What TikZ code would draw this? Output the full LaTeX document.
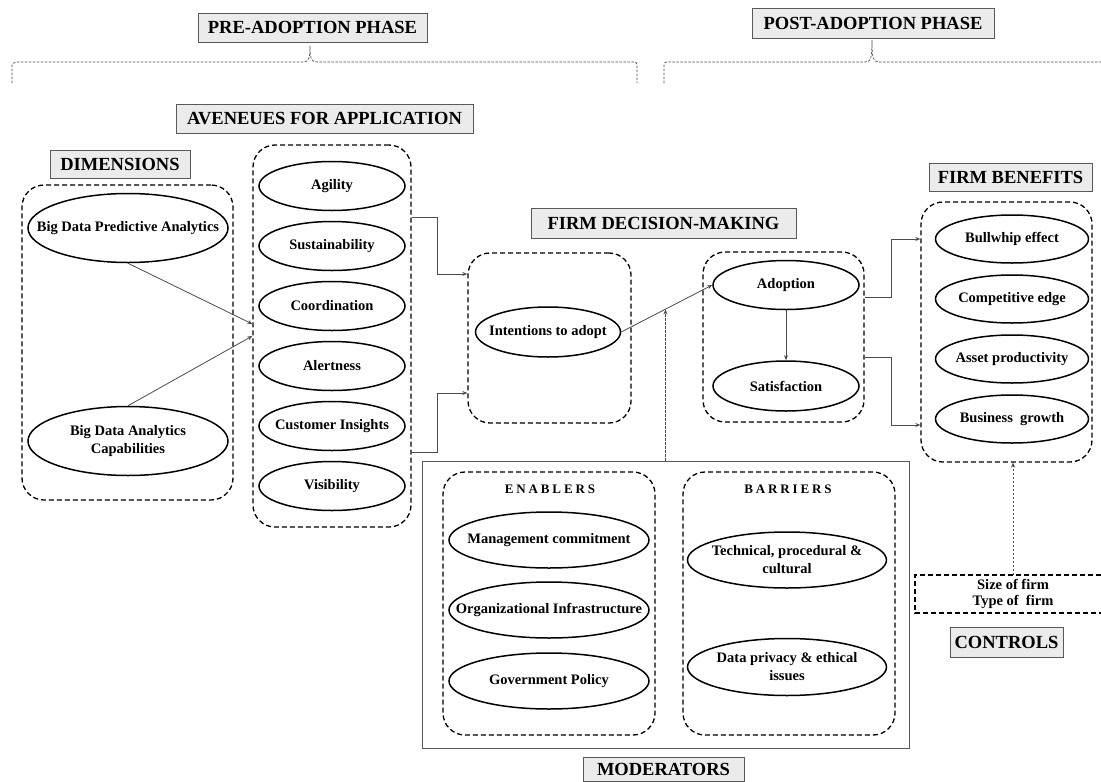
\documentclass[tikz,border=0pt]{standalone}
\usepackage{fontspec}
\setmainfont{Liberation Serif}
\newfontfamily\spacedfont[LetterSpace=22]{Liberation Serif}
\usetikzlibrary{shapes.geometric,arrows.meta,calc}
\begin{document}
\begin{tikzpicture}[x=1pt,y=-1pt,
  hd/.style={draw=black!65, fill=black!8, line width=0.9pt, inner sep=0pt, font=\fontsize{18.5}{20}\selectfont\bfseries},
  dbox/.style={draw, dash pattern=on 5pt off 3pt, line width=1.3pt, rounded corners=22pt, inner sep=0pt},
  el/.style={draw, ellipse, line width=1.5pt, inner sep=0pt},
  lab/.style={font=\fontsize{14.5}{18}\selectfont\bfseries, align=center},
  conn/.style={draw=black!70, line width=0.8pt, -{Stealth[length=5pt,width=4pt]}},
  dotc/.style={draw=black!70, line width=0.7pt, dash pattern=on 2.5pt off 1.5pt},
  sp/.style={font=\fontsize{13}{15}\spacedfont\bfseries},
]
\fill[white] (0,0) rectangle (1101,782);
\useasboundingbox (0,0) rectangle (1101,782);

% phase headings
\node[hd, minimum width=229, minimum height=29] (pre) at (312.5,27.5) {PRE-ADOPTION PHASE};
\node[hd, minimum width=242, minimum height=30] (post) at (873,23) {POST-ADOPTION PHASE};
\draw[dotc] (12,83) -- (12,68) .. controls (12,63) .. (18,62) -- (303,62)
  .. controls (309,62) and (310,58) .. (310,46) .. controls (310,58) and (311,62) .. (317,62)
  -- (631,62) .. controls (637,62) .. (637,68) -- (637,83);
\draw[dotc] (664,83) -- (664,68) .. controls (664,62) .. (670,62) -- (865,62)
  .. controls (871,62) and (872,58) .. (872,40) .. controls (872,58) and (873,62) .. (879,62)
  -- (1101,62);

% section headings
\node[hd, minimum width=297, minimum height=29] (avh) at (324.5,118.5) {AVENEUES FOR APPLICATION};
\node[hd, minimum width=140, minimum height=28] (dimh) at (120,164) {DIMENSIONS};
\node[hd, minimum width=265, minimum height=30] (fdh) at (663.5,223) {FIRM DECISION-MAKING};
\node[hd, minimum width=163, minimum height=28] (fbh) at (1010.5,177) {FIRM BENEFITS};
\node[hd, minimum width=113, minimum height=30] (ctrlh) at (1006.5,642) {CONTROLS};
\node[hd, minimum width=161, minimum height=24] (modh) at (663.5,769) {MODERATORS};

% dimensions
\node[dbox, minimum width=211, minimum height=315] (dim) at (127.5,342.5) {};
\node[el, minimum width=200, minimum height=69, label={[lab]center:Big Data Predictive Analytics}] (bdpa) at (128,228) {};
\node[el, minimum width=200, minimum height=69, label={[lab]center:{Big Data Analytics\\Capabilities}}] (bdac) at (128,441) {};

% avenues
\node[dbox, minimum width=158, minimum height=382] (av) at (332,336) {};
\node[el, minimum width=146, minimum height=49, label={[lab]center:Agility}] (agi) at (332,186) {};
\node[el, minimum width=146, minimum height=49, label={[lab]center:Sustainability}] (sus) at (332,246) {};
\node[el, minimum width=146, minimum height=49, label={[lab]center:Coordination}] (coo) at (332,306) {};
\node[el, minimum width=146, minimum height=49, label={[lab]center:Alertness}] (ale) at (332,366) {};
\node[el, minimum width=146, minimum height=49, label={[lab]center:Customer Insights}] (cus) at (332,426) {};
\node[el, minimum width=146, minimum height=49, label={[lab]center:Visibility}] (vis) at (332,486) {};

% decision making
\node[dbox, minimum width=163, minimum height=170] (ib) at (549.5,338) {};
\node[el, minimum width=145, minimum height=50, label={[lab]center:Intentions to adopt}] (int) at (548,332) {};
\node[dbox, minimum width=161, minimum height=170] (adb) at (783.5,337) {};
\node[el, minimum width=146, minimum height=49, label={[lab]center:Adoption}] (ado) at (786,285) {};
\node[el, minimum width=146, minimum height=50, label={[lab]center:Satisfaction}] (sat) at (786,386) {};

% benefits
\node[dbox, minimum width=171, minimum height=260] (bb) at (1006.5,332) {};
\node[el, minimum width=153, minimum height=48, label={[lab]center:Bullwhip effect}] (bull) at (1012,239) {};
\node[el, minimum width=153, minimum height=48, label={[lab]center:Competitive edge}] (comp) at (1012,299) {};
\node[el, minimum width=153, minimum height=48, label={[lab]center:Asset productivity}] (asset) at (1012,359) {};
\node[el, minimum width=153, minimum height=48, label={[lab]center:Business~ growth}] (bus) at (1012,419) {};

% controls
\draw[line width=1.3pt, dash pattern=on 5pt off 3pt] (1101,575) -- (915,575) -- (915,613) -- (1101,613);
\node[font=\fontsize{14.5}{16}\selectfont\bfseries, align=center, inner sep=0pt] (ctrl) at (1013,594) {Size of firm\\Type of~ firm};
\coordinate (ctrltop) at (1013,575);

% moderators
\node[draw=black!65, line width=0.9pt, minimum width=487, minimum height=287, inner sep=0pt] (mod) at (665.5,604.5) {};
\node[dbox, minimum width=212, minimum height=263] (enb) at (549,603.5) {};
\node[dbox, minimum width=212, minimum height=263] (bar) at (789,603.5) {};
\node[sp] (enl) at (550,489) {ENABLERS};
\node[sp] (barl) at (788,489) {BARRIERS};
\node[el, minimum width=200, minimum height=56, label={[lab]center:Management commitment}] (mgmt) at (549,540) {};
\node[el, minimum width=200, minimum height=56, label={[lab]center:Organizational Infrastructure}] (org) at (549,610) {};
\node[el, minimum width=200, minimum height=56, label={[lab]center:Government Policy}] (gov) at (549,681) {};
\node[el, minimum width=199, minimum height=56, label={[lab]center:{Technical, procedural \&\\cultural}}] (tech) at (787,560) {};
\node[el, minimum width=199, minimum height=57, label={[lab]center:{Data privacy \& ethical\\issues}}] (priv) at (787,667) {};

% connectors
\draw[conn] (bdpa.south) -- ([yshift=12pt]av.west);
\draw[conn] (bdac.north) -- (av.west);
\draw[conn] ([yshift=119pt]av.east) -| ([xshift=-30pt,yshift=64pt]ib.west) -- ([yshift=64pt]ib.west);
\draw[conn] ([yshift=-116pt]av.east) -| ([xshift=-30pt,yshift=-55pt]ib.west) -- ([yshift=-55pt]ib.west);
\draw[conn] (int.east) -- (ado.west);
\coordinate (mid) at ($(int.east)!0.48!(ado.west)$);
\draw[conn] (ado.south) -- (sat.north);
\draw[conn] ([yshift=40pt]adb.east) -| ([xshift=-29pt,yshift=93pt]bb.west) -- ([yshift=93pt]bb.west);
\draw[conn] ([yshift=-20pt]adb.east) -| ([xshift=-29pt,yshift=-93pt]bb.west) -- ([yshift=-93pt]bb.west);
\draw[dotc, -{Stealth[length=5pt,width=4pt]}] (mod.north) -- (mod.north |- mid);
\draw[dotc, -{Stealth[length=5pt,width=4pt]}] (ctrltop) -- (ctrltop |- bb.south);
\end{tikzpicture}
\end{document}
